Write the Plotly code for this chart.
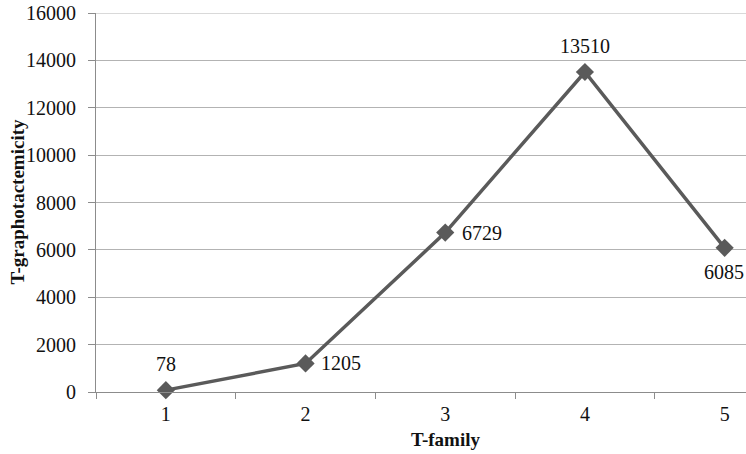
import plotly.graph_objects as go

families = [1, 2, 3, 4, 5]
values = [78, 1205, 6729, 13510, 6085]
y_ticks = [0, 2000, 4000, 6000, 8000, 10000, 12000, 14000, 16000]

# label placement per point: (xanchor, yanchor, xshift, yshift)
label_style = [
    ("center", "bottom", 0, 13),
    ("left", "middle", 13, 0),
    ("left", "middle", 15, 0),
    ("center", "bottom", 0, 13),
    ("center", "top", -1, -11),
]

FONT = "Liberation Serif, Times New Roman, serif"

W, H = 746, 454
L, T, B, R = 96, 13, 62, 0

fig = go.Figure()
fig.add_trace(go.Scatter(
    x=families, y=values,
    mode="lines+markers",
    line=dict(color="#5a5a5a", width=3.5),
    marker=dict(symbol="diamond", size=14, color="#5a5a5a"),
    cliponaxis=False,
    showlegend=False,
))

for xv, yv, (xa, ya, xs, ys) in zip(families, values, label_style):
    fig.add_annotation(
        x=xv, y=yv, xref="x", yref="y", text=str(yv), showarrow=False,
        xanchor=xa, yanchor=ya, xshift=xs, yshift=ys,
        font=dict(family=FONT, size=20, color="#111111"),
    )

fig.update_layout(
    width=W, height=H,
    margin=dict(l=L, r=R, t=T, b=B, pad=0),
    paper_bgcolor="white", plot_bgcolor="white",
    font=dict(family=FONT, size=20, color="#111111"),
    xaxis=dict(
        range=[0.5, 5.153],
        automargin=False,
        tickmode="array", tickvals=families, ticktext=[str(f) for f in families],
        showgrid=False, zeroline=False,
        showline=True, linecolor="#8c8c8c", linewidth=1,
        ticks="", ticklen=0,
        minor=dict(tickmode="array", tickvals=[0.5, 1.5, 2.5, 3.5, 4.5],
                   ticks="outside", ticklen=6, tickcolor="#8c8c8c", showgrid=False),
        tickfont=dict(family=FONT, size=20, color="#111111"),
        ticklabelstandoff=4,
        ticklabeloverflow="allow",
    ),
    yaxis=dict(
        range=[0, 16000],
        automargin=False,
        tickmode="array", tickvals=y_ticks, ticktext=[str(t) for t in y_ticks],
        showgrid=True, gridcolor="#b3b3b3", gridwidth=1,
        zeroline=False,
        showline=True, linecolor="#8c8c8c", linewidth=1,
        ticks="outside", ticklen=7, tickcolor="#8c8c8c",
        tickfont=dict(family=FONT, size=20, color="#111111"),
        ticklabelstandoff=8,
        ticklabeloverflow="allow",
    ),
)

# top gridline (plotly drops the gridline sitting on the plot edge)
fig.add_shape(type="line", xref="paper", x0=0, x1=1, yref="y",
              y0=y_ticks[-1], y1=y_ticks[-1],
              line=dict(color="#b3b3b3", width=1), layer="below")

plot_w = W - L - R
plot_h = H - T - B

fig.add_annotation(
    x=(17 - L) / plot_w, xref="paper", xanchor="center",
    y=0.5, yref="paper", yanchor="middle",
    text="<b>T-graphotactemicity</b>", showarrow=False, textangle=-90,
    font=dict(family=FONT, size=19, color="#111111"),
)

fig.add_annotation(
    x=3, xref="x", y=-47 / plot_h, yref="paper",
    text="<b>T-family</b>", showarrow=False,
    font=dict(family=FONT, size=19, color="#111111"),
    xanchor="center", yanchor="middle",
)

fig.write_html("out.html", config={"displayModeBar": False},
               post_script="document.body.style.margin='0px';")
